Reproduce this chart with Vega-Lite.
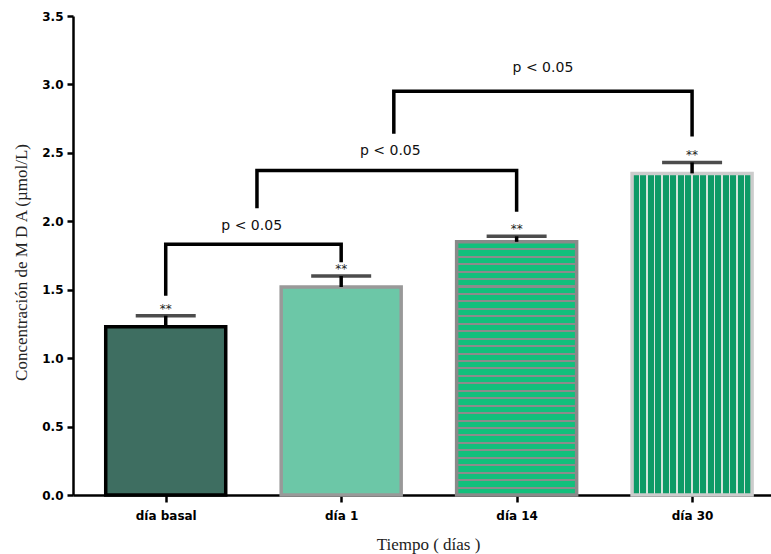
{
  "$schema": "https://vega.github.io/schema/vega-lite/v6.json",
  "autosize": "none",
  "width": 698,
  "height": 479,
  "padding": {"left": 73, "top": 16, "right": 0, "bottom": 59},
  "background": "white",
  "config": {"view": {"stroke": null}},
  "data": {
    "values": [
      {"kind": "bar", "pos": 0, "dia": "día basal", "val": 1.23, "hi": 1.31, "sig": "**"},
      {"kind": "bar", "pos": 1, "dia": "día 1", "val": 1.52, "hi": 1.6, "sig": "**"},
      {"kind": "bar", "pos": 2, "dia": "día 14", "val": 1.85, "hi": 1.89, "sig": "**"},
      {"kind": "bar", "pos": 3, "dia": "día 30", "val": 2.35, "hi": 2.43, "sig": "**"},
      {"kind": "bracket", "group": 1, "order": 1, "pos": 0, "val": 1.455},
      {"kind": "bracket", "group": 1, "order": 2, "pos": 0, "val": 1.832},
      {"kind": "bracket", "group": 1, "order": 3, "pos": 1, "val": 1.832},
      {"kind": "bracket", "group": 1, "order": 4, "pos": 1, "val": 1.7},
      {"kind": "bracket", "group": 2, "order": 1, "pos": 0.52, "val": 2.095},
      {"kind": "bracket", "group": 2, "order": 2, "pos": 0.52, "val": 2.372},
      {"kind": "bracket", "group": 2, "order": 3, "pos": 2, "val": 2.372},
      {"kind": "bracket", "group": 2, "order": 4, "pos": 2, "val": 2.07},
      {"kind": "bracket", "group": 3, "order": 1, "pos": 1.3, "val": 2.64},
      {"kind": "bracket", "group": 3, "order": 2, "pos": 1.3, "val": 2.95},
      {"kind": "bracket", "group": 3, "order": 3, "pos": 3, "val": 2.95},
      {"kind": "bracket", "group": 3, "order": 4, "pos": 3, "val": 2.62},
      {"kind": "p", "pos": 0.49, "val": 1.965, "label": "p < 0.05"},
      {"kind": "p", "pos": 1.28, "val": 2.51, "label": "p < 0.05"},
      {"kind": "p", "pos": 2.15, "val": 3.117, "label": "p < 0.05"}
    ]
  },
  "encoding": {
    "x": {
      "field": "pos", "type": "quantitative",
      "scale": {"domain": [-0.5, 3.4213], "nice": false, "zero": false},
      "axis": {
        "values": [0, 1, 2, 3],
        "labelExpr": "['día basal','día 1','día 14','día 30'][datum.value]",
        "grid": false,
        "domainColor": "black", "domainWidth": 2.5,
        "tickColor": "black", "tickWidth": 2.5, "tickSize": 7,
        "labelFont": "DejaVu Sans", "labelFontWeight": "bold", "labelFontSize": 12, "labelColor": "black",
        "labelPadding": 8,
        "title": "Tiempo ( días )",
        "titleFont": "Liberation Serif", "titleFontSize": 17, "titleFontWeight": "normal", "titleColor": "#222",
        "titleX": 355, "titleY": 54, "titleBaseline": "alphabetic"
      }
    },
    "y": {
      "field": "val", "type": "quantitative",
      "scale": {"domain": [0, 3.5], "nice": false},
      "axis": {
        "values": [0, 0.5, 1, 1.5, 2, 2.5, 3, 3.5],
        "format": ".1f",
        "grid": false,
        "domainColor": "black", "domainWidth": 2.5,
        "tickColor": "black", "tickWidth": 2.5, "tickSize": 6,
        "labelFont": "DejaVu Sans", "labelFontWeight": "bold", "labelFontSize": 12, "labelColor": "black",
        "labelPadding": 4,
        "title": "Concentración de M D A (µmol/L)",
        "titleFont": "Liberation Serif", "titleFontSize": 17, "titleFontWeight": "normal", "titleColor": "#222",
        "titleX": -52, "titleY": 246, "titleBaseline": "middle", "titleAngle": -90
      }
    }
  },
  "layer": [
    {
      "transform": [{"filter": "datum.kind == 'bar' && datum.pos == 0"}],
      "mark": {"type": "bar", "width": 120, "fill": "#3e6e61", "stroke": "#000000", "strokeWidth": 3.5}
    },
    {
      "transform": [{"filter": "datum.kind == 'bar' && datum.pos == 1"}],
      "mark": {"type": "bar", "width": 120, "fill": "#6cc7a7", "stroke": "#999999", "strokeWidth": 3.5}
    },
    {
      "transform": [{"filter": "datum.kind == 'bar' && datum.pos == 2"}],
      "mark": {"type": "bar", "width": 120, "stroke": "#8a8a8a", "strokeWidth": 3.5,
        "fill": {"gradient": "linear", "x1": 0, "y1": 0, "x2": 0, "y2": 1, "stops": [
          {"offset": 0, "color": "#12c07c"},
          {"offset": 0.0254, "color": "#12c07c"}, {"offset": 0.0254, "color": "#8c8c8c"}, {"offset": 0.0334, "color": "#8c8c8c"}, {"offset": 0.0334, "color": "#12c07c"},
          {"offset": 0.0548, "color": "#12c07c"}, {"offset": 0.0548, "color": "#8c8c8c"}, {"offset": 0.0628, "color": "#8c8c8c"}, {"offset": 0.0628, "color": "#12c07c"},
          {"offset": 0.0842, "color": "#12c07c"}, {"offset": 0.0842, "color": "#8c8c8c"}, {"offset": 0.0922, "color": "#8c8c8c"}, {"offset": 0.0922, "color": "#12c07c"},
          {"offset": 0.1136, "color": "#12c07c"}, {"offset": 0.1136, "color": "#8c8c8c"}, {"offset": 0.1216, "color": "#8c8c8c"}, {"offset": 0.1216, "color": "#12c07c"},
          {"offset": 0.1431, "color": "#12c07c"}, {"offset": 0.1431, "color": "#8c8c8c"}, {"offset": 0.1511, "color": "#8c8c8c"}, {"offset": 0.1511, "color": "#12c07c"},
          {"offset": 0.1725, "color": "#12c07c"}, {"offset": 0.1725, "color": "#8c8c8c"}, {"offset": 0.1805, "color": "#8c8c8c"}, {"offset": 0.1805, "color": "#12c07c"},
          {"offset": 0.2019, "color": "#12c07c"}, {"offset": 0.2019, "color": "#8c8c8c"}, {"offset": 0.2099, "color": "#8c8c8c"}, {"offset": 0.2099, "color": "#12c07c"},
          {"offset": 0.2313, "color": "#12c07c"}, {"offset": 0.2313, "color": "#8c8c8c"}, {"offset": 0.2393, "color": "#8c8c8c"}, {"offset": 0.2393, "color": "#12c07c"},
          {"offset": 0.2607, "color": "#12c07c"}, {"offset": 0.2607, "color": "#8c8c8c"}, {"offset": 0.2687, "color": "#8c8c8c"}, {"offset": 0.2687, "color": "#12c07c"},
          {"offset": 0.2901, "color": "#12c07c"}, {"offset": 0.2901, "color": "#8c8c8c"}, {"offset": 0.2981, "color": "#8c8c8c"}, {"offset": 0.2981, "color": "#12c07c"},
          {"offset": 0.3195, "color": "#12c07c"}, {"offset": 0.3195, "color": "#8c8c8c"}, {"offset": 0.3275, "color": "#8c8c8c"}, {"offset": 0.3275, "color": "#12c07c"},
          {"offset": 0.3489, "color": "#12c07c"}, {"offset": 0.3489, "color": "#8c8c8c"}, {"offset": 0.3569, "color": "#8c8c8c"}, {"offset": 0.3569, "color": "#12c07c"},
          {"offset": 0.3784, "color": "#12c07c"}, {"offset": 0.3784, "color": "#8c8c8c"}, {"offset": 0.3864, "color": "#8c8c8c"}, {"offset": 0.3864, "color": "#12c07c"},
          {"offset": 0.4078, "color": "#12c07c"}, {"offset": 0.4078, "color": "#8c8c8c"}, {"offset": 0.4158, "color": "#8c8c8c"}, {"offset": 0.4158, "color": "#12c07c"},
          {"offset": 0.4372, "color": "#12c07c"}, {"offset": 0.4372, "color": "#8c8c8c"}, {"offset": 0.4452, "color": "#8c8c8c"}, {"offset": 0.4452, "color": "#12c07c"},
          {"offset": 0.4666, "color": "#12c07c"}, {"offset": 0.4666, "color": "#8c8c8c"}, {"offset": 0.4746, "color": "#8c8c8c"}, {"offset": 0.4746, "color": "#12c07c"},
          {"offset": 0.496, "color": "#12c07c"}, {"offset": 0.496, "color": "#8c8c8c"}, {"offset": 0.504, "color": "#8c8c8c"}, {"offset": 0.504, "color": "#12c07c"},
          {"offset": 0.5254, "color": "#12c07c"}, {"offset": 0.5254, "color": "#8c8c8c"}, {"offset": 0.5334, "color": "#8c8c8c"}, {"offset": 0.5334, "color": "#12c07c"},
          {"offset": 0.5548, "color": "#12c07c"}, {"offset": 0.5548, "color": "#8c8c8c"}, {"offset": 0.5628, "color": "#8c8c8c"}, {"offset": 0.5628, "color": "#12c07c"},
          {"offset": 0.5842, "color": "#12c07c"}, {"offset": 0.5842, "color": "#8c8c8c"}, {"offset": 0.5922, "color": "#8c8c8c"}, {"offset": 0.5922, "color": "#12c07c"},
          {"offset": 0.6136, "color": "#12c07c"}, {"offset": 0.6136, "color": "#8c8c8c"}, {"offset": 0.6216, "color": "#8c8c8c"}, {"offset": 0.6216, "color": "#12c07c"},
          {"offset": 0.6431, "color": "#12c07c"}, {"offset": 0.6431, "color": "#8c8c8c"}, {"offset": 0.6511, "color": "#8c8c8c"}, {"offset": 0.6511, "color": "#12c07c"},
          {"offset": 0.6725, "color": "#12c07c"}, {"offset": 0.6725, "color": "#8c8c8c"}, {"offset": 0.6805, "color": "#8c8c8c"}, {"offset": 0.6805, "color": "#12c07c"},
          {"offset": 0.7019, "color": "#12c07c"}, {"offset": 0.7019, "color": "#8c8c8c"}, {"offset": 0.7099, "color": "#8c8c8c"}, {"offset": 0.7099, "color": "#12c07c"},
          {"offset": 0.7313, "color": "#12c07c"}, {"offset": 0.7313, "color": "#8c8c8c"}, {"offset": 0.7393, "color": "#8c8c8c"}, {"offset": 0.7393, "color": "#12c07c"},
          {"offset": 0.7607, "color": "#12c07c"}, {"offset": 0.7607, "color": "#8c8c8c"}, {"offset": 0.7687, "color": "#8c8c8c"}, {"offset": 0.7687, "color": "#12c07c"},
          {"offset": 0.7901, "color": "#12c07c"}, {"offset": 0.7901, "color": "#8c8c8c"}, {"offset": 0.7981, "color": "#8c8c8c"}, {"offset": 0.7981, "color": "#12c07c"},
          {"offset": 0.8195, "color": "#12c07c"}, {"offset": 0.8195, "color": "#8c8c8c"}, {"offset": 0.8275, "color": "#8c8c8c"}, {"offset": 0.8275, "color": "#12c07c"},
          {"offset": 0.8489, "color": "#12c07c"}, {"offset": 0.8489, "color": "#8c8c8c"}, {"offset": 0.8569, "color": "#8c8c8c"}, {"offset": 0.8569, "color": "#12c07c"},
          {"offset": 0.8784, "color": "#12c07c"}, {"offset": 0.8784, "color": "#8c8c8c"}, {"offset": 0.8864, "color": "#8c8c8c"}, {"offset": 0.8864, "color": "#12c07c"},
          {"offset": 0.9078, "color": "#12c07c"}, {"offset": 0.9078, "color": "#8c8c8c"}, {"offset": 0.9158, "color": "#8c8c8c"}, {"offset": 0.9158, "color": "#12c07c"},
          {"offset": 0.9372, "color": "#12c07c"}, {"offset": 0.9372, "color": "#8c8c8c"}, {"offset": 0.9452, "color": "#8c8c8c"}, {"offset": 0.9452, "color": "#12c07c"},
          {"offset": 0.9666, "color": "#12c07c"}, {"offset": 0.9666, "color": "#8c8c8c"}, {"offset": 0.9746, "color": "#8c8c8c"}, {"offset": 0.9746, "color": "#12c07c"},
          {"offset": 1, "color": "#12c07c"}
        ]}}
    },
    {
      "transform": [{"filter": "datum.kind == 'bar' && datum.pos == 3"}],
      "mark": {"type": "bar", "width": 120, "stroke": "#cccccc", "strokeWidth": 3.5,
        "fill": {"gradient": "linear", "x1": 0, "y1": 0, "x2": 1, "y2": 0, "stops": [
          {"offset": 0, "color": "#0d9a66"},
          {"offset": 0.055, "color": "#0d9a66"}, {"offset": 0.055, "color": "#d4e4dc"}, {"offset": 0.07, "color": "#d4e4dc"}, {"offset": 0.07, "color": "#0d9a66"},
          {"offset": 0.1175, "color": "#0d9a66"}, {"offset": 0.1175, "color": "#d4e4dc"}, {"offset": 0.1325, "color": "#d4e4dc"}, {"offset": 0.1325, "color": "#0d9a66"},
          {"offset": 0.18, "color": "#0d9a66"}, {"offset": 0.18, "color": "#d4e4dc"}, {"offset": 0.195, "color": "#d4e4dc"}, {"offset": 0.195, "color": "#0d9a66"},
          {"offset": 0.2425, "color": "#0d9a66"}, {"offset": 0.2425, "color": "#d4e4dc"}, {"offset": 0.2575, "color": "#d4e4dc"}, {"offset": 0.2575, "color": "#0d9a66"},
          {"offset": 0.305, "color": "#0d9a66"}, {"offset": 0.305, "color": "#d4e4dc"}, {"offset": 0.32, "color": "#d4e4dc"}, {"offset": 0.32, "color": "#0d9a66"},
          {"offset": 0.3675, "color": "#0d9a66"}, {"offset": 0.3675, "color": "#d4e4dc"}, {"offset": 0.3825, "color": "#d4e4dc"}, {"offset": 0.3825, "color": "#0d9a66"},
          {"offset": 0.43, "color": "#0d9a66"}, {"offset": 0.43, "color": "#d4e4dc"}, {"offset": 0.445, "color": "#d4e4dc"}, {"offset": 0.445, "color": "#0d9a66"},
          {"offset": 0.4925, "color": "#0d9a66"}, {"offset": 0.4925, "color": "#d4e4dc"}, {"offset": 0.5075, "color": "#d4e4dc"}, {"offset": 0.5075, "color": "#0d9a66"},
          {"offset": 0.555, "color": "#0d9a66"}, {"offset": 0.555, "color": "#d4e4dc"}, {"offset": 0.57, "color": "#d4e4dc"}, {"offset": 0.57, "color": "#0d9a66"},
          {"offset": 0.6175, "color": "#0d9a66"}, {"offset": 0.6175, "color": "#d4e4dc"}, {"offset": 0.6325, "color": "#d4e4dc"}, {"offset": 0.6325, "color": "#0d9a66"},
          {"offset": 0.68, "color": "#0d9a66"}, {"offset": 0.68, "color": "#d4e4dc"}, {"offset": 0.695, "color": "#d4e4dc"}, {"offset": 0.695, "color": "#0d9a66"},
          {"offset": 0.7425, "color": "#0d9a66"}, {"offset": 0.7425, "color": "#d4e4dc"}, {"offset": 0.7575, "color": "#d4e4dc"}, {"offset": 0.7575, "color": "#0d9a66"},
          {"offset": 0.805, "color": "#0d9a66"}, {"offset": 0.805, "color": "#d4e4dc"}, {"offset": 0.82, "color": "#d4e4dc"}, {"offset": 0.82, "color": "#0d9a66"},
          {"offset": 0.8675, "color": "#0d9a66"}, {"offset": 0.8675, "color": "#d4e4dc"}, {"offset": 0.8825, "color": "#d4e4dc"}, {"offset": 0.8825, "color": "#0d9a66"},
          {"offset": 0.93, "color": "#0d9a66"}, {"offset": 0.93, "color": "#d4e4dc"}, {"offset": 0.945, "color": "#d4e4dc"}, {"offset": 0.945, "color": "#0d9a66"},
          {"offset": 1, "color": "#0d9a66"}
        ]}}
    },
    {
      "transform": [{"filter": "datum.kind == 'bar'"}],
      "mark": {"type": "rule", "color": "black", "strokeWidth": 3.5},
      "encoding": {"y2": {"field": "hi"}}
    },
    {
      "transform": [{"filter": "datum.kind == 'bar'"}],
      "mark": {"type": "tick", "orient": "horizontal", "size": 60, "thickness": 3.5, "color": "black"},
      "encoding": {"y": {"field": "hi", "type": "quantitative", "title": "Concentración de M D A (µmol/L)"}}
    },
    {
      "transform": [{"filter": "datum.kind == 'bar'"}],
      "mark": {"type": "text", "font": "DejaVu Sans", "fontSize": 12, "fill": "#222222", "baseline": "alphabetic", "dy": -3},
      "encoding": {
        "y": {"field": "hi", "type": "quantitative", "title": "Concentración de M D A (µmol/L)"},
        "text": {"field": "sig"}
      }
    },
    {
      "transform": [{"filter": "datum.kind == 'bracket'"}],
      "mark": {"type": "line", "color": "black", "strokeWidth": 3.5, "strokeJoin": "miter", "strokeCap": "butt"},
      "encoding": {
        "detail": {"field": "group"},
        "order": {"field": "order", "type": "quantitative"}
      }
    },
    {
      "transform": [{"filter": "datum.kind == 'p'"}],
      "mark": {"type": "text", "font": "DejaVu Sans", "fontSize": 14, "fill": "#111111", "baseline": "middle"},
      "encoding": {"text": {"field": "label"}}
    }
  ]
}
